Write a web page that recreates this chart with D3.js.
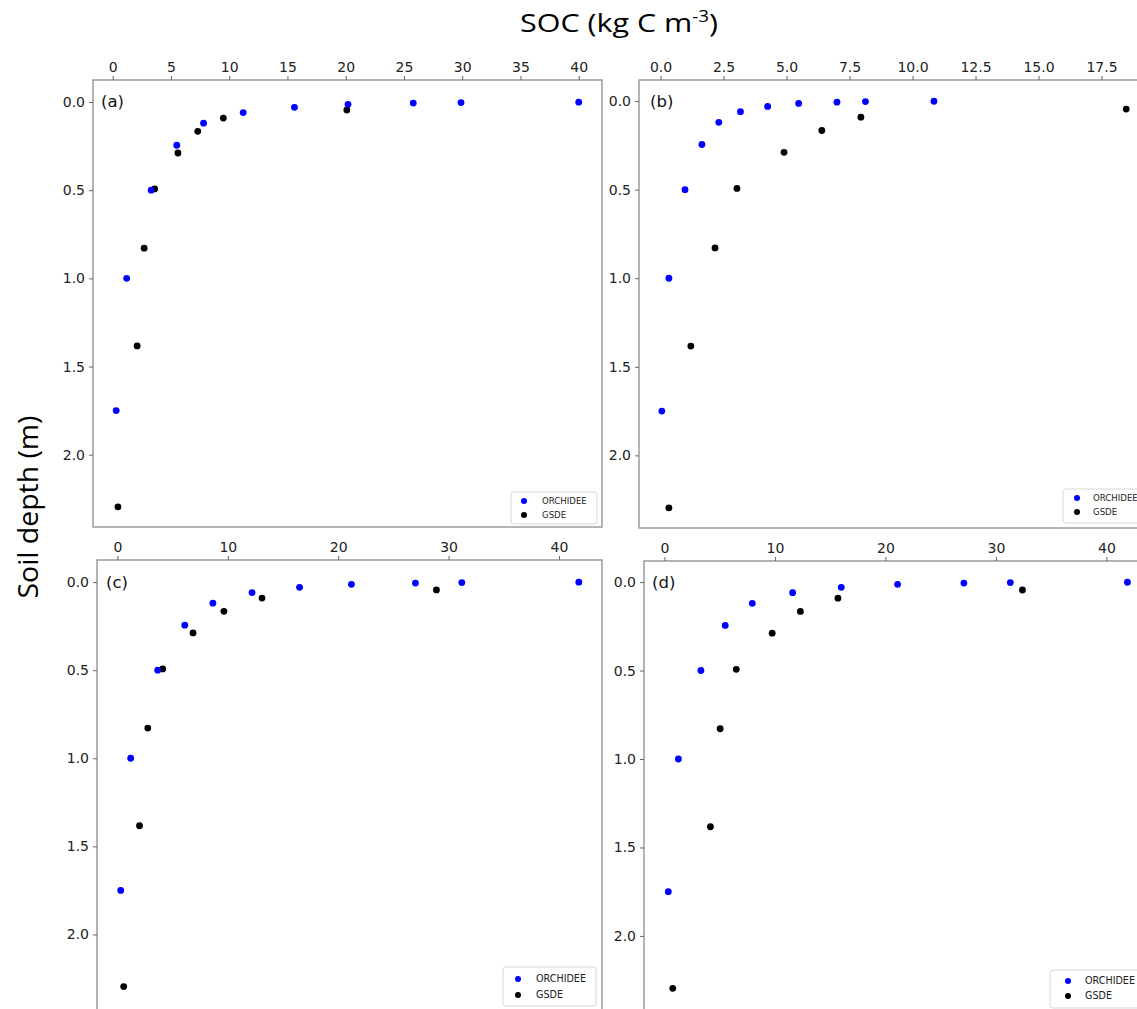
<!DOCTYPE html>
<html>
<head>
<meta charset="utf-8">
<script src="https://cdn.jsdelivr.net/npm/d3@7"></script>
<style>
  body { margin: 0; background: #fff; }
  svg { display: block; }
</style>
</head>
<body>
<svg width="1137" height="1009"></svg>
<script>
// depths (m) of the two data sets
const depthOrch = [0.001, 0.003, 0.006, 0.013, 0.03, 0.06, 0.12, 0.245, 0.5, 1.0, 1.75];
const depthGsde = [0.045, 0.091, 0.166, 0.289, 0.493, 0.829, 1.383, 2.296];

// SOC values (kg C m-3) per panel
const orchA = [40.0, 29.9, 25.8, 20.2, 15.6, 11.2, 7.8, 5.5, 3.3, 1.2, 0.3];
const gsdeA = [20.1, 9.5, 7.3, 5.6, 3.6, 2.7, 2.1, 0.45];
const orchB = [10.85, 8.13, 7.0, 5.48, 4.25, 3.17, 2.31, 1.64, 0.97, 0.33, 0.05];
const gsdeB = [18.48, 7.95, 6.4, 4.9, 3.03, 2.16, 1.2, 0.33];
const orchC = [41.8, 31.2, 27.0, 21.2, 16.5, 12.2, 8.65, 6.1, 3.65, 1.2, 0.3];
const gsdeC = [28.9, 13.1, 9.65, 6.85, 4.1, 2.75, 2.0, 0.57];
const orchD = [41.9, 31.3, 27.1, 21.1, 16.0, 11.6, 7.95, 5.5, 3.3, 1.26, 0.35];
const gsdeD = [32.4, 15.7, 12.3, 9.75, 6.5, 5.04, 4.16, 0.75];

// tick labels
const xTicksA = [0, 5, 10, 15, 20, 25, 30, 35, 40];
const xTicksB = [0, 2.5, 5, 7.5, 10, 12.5, 15, 17.5];
const xTicksCD = [0, 10, 20, 30, 40];
const yTicks = [0, 0.5, 1.0, 1.5, 2.0];
const seriesNames = ["ORCHIDEE", "GSDE"];
const seriesColors = ["#0000ff", "#000000"];

const svg = d3.select("svg");
const tickFont = "DejaVu Sans, sans-serif";

// panel geometry
const panels = [
  { tag: "(a)", orch: orchA, gsde: gsdeA, xt: xTicksA, xf: d3.format("d"),
    left: 93, right: 602, top: 80, bottom: 527, xd: [-1.69, 42.0], yd: [-0.125, 2.41],
    tagX: 101, tagY: 107,
    leg: { x: 511, y: 492, w: 86, h: 32, fs: 8.6, dx: 13, tx: 31, r1: 9, r2: 23 } },
  { tag: "(b)", orch: orchB, gsde: gsdeB, xt: xTicksB, xf: d3.format(".1f"),
    left: 639, right: 1165, top: 80, bottom: 528, xd: [-0.857, 20.02], yd: [-0.119, 2.41],
    tagX: 650, tagY: 107,
    leg: { x: 1063, y: 489, w: 90, h: 34, fs: 8.6, dx: 14, tx: 30, r1: 9, r2: 23 } },
  { tag: "(c)", orch: orchC, gsde: gsdeC, xt: xTicksCD, xf: d3.format("d"),
    left: 97, right: 602, top: 560, bottom: 1012, xd: [-1.85, 43.9], yd: [-0.125, 2.44],
    tagX: 106, tagY: 588,
    leg: { x: 503, y: 967, w: 93, h: 39, fs: 9.6, dx: 15, tx: 33, r1: 12, r2: 28 } },
  { tag: "(d)", orch: orchD, gsde: gsdeD, xt: xTicksCD, xf: d3.format("d"),
    left: 644, right: 1165, top: 561, bottom: 1012, xd: [-1.85, 45.3], yd: [-0.119, 2.43],
    tagX: 652, tagY: 588,
    leg: { x: 1050, y: 970, w: 95, h: 38, fs: 9.6, dx: 18, tx: 35, r1: 11, r2: 26 } }
];

panels.forEach(p => {
  const g = svg.append("g");
  const x = d3.scaleLinear().domain(p.xd).range([p.left, p.right]);
  const y = d3.scaleLinear().domain(p.yd).range([p.top, p.bottom]);

  // frame
  g.append("rect")
    .attr("x", p.left).attr("y", p.top)
    .attr("width", p.right - p.left).attr("height", p.bottom - p.top)
    .attr("fill", "#fff").attr("stroke", "#8c8c8c").attr("stroke-width", 1.3);

  // top axis
  const ax = g.append("g")
    .attr("transform", `translate(0,${p.top})`)
    .call(d3.axisTop(x).tickValues(p.xt).tickFormat(p.xf).tickSize(4).tickPadding(4));
  ax.select(".domain").remove();

  // left axis
  const ay = g.append("g")
    .attr("transform", `translate(${p.left},0)`)
    .call(d3.axisLeft(y).tickValues(yTicks).tickFormat(d3.format(".1f")).tickSize(4).tickPadding(4));
  ay.select(".domain").remove();

  g.selectAll(".tick line").attr("stroke", "#666");
  g.selectAll(".tick text")
    .attr("font-family", tickFont).attr("font-size", 14).attr("fill", "#222");

  // points
  g.selectAll(".gs").data(p.gsde).join("circle")
    .attr("cx", d => x(d)).attr("cy", (d, i) => y(depthGsde[i]))
    .attr("r", 3.4).attr("fill", seriesColors[1]);
  g.selectAll(".or").data(p.orch).join("circle")
    .attr("cx", d => x(d)).attr("cy", (d, i) => y(depthOrch[i]))
    .attr("r", 3.4).attr("fill", seriesColors[0]);

  // panel tag
  g.append("text")
    .attr("x", p.tagX).attr("y", p.tagY)
    .attr("font-family", tickFont).attr("font-size", 16.5).attr("fill", "#111")
    .text(p.tag);

  // legend
  const L = p.leg;
  g.append("rect")
    .attr("x", L.x).attr("y", L.y).attr("width", L.w).attr("height", L.h)
    .attr("rx", 3).attr("fill", "#fff").attr("stroke", "#d8d8d8");
  seriesNames.forEach((n, i) => {
    const cy = L.y + (i === 0 ? L.r1 : L.r2);
    g.append("circle").attr("cx", L.x + L.dx).attr("cy", cy)
      .attr("r", 3).attr("fill", seriesColors[i]);
    g.append("text").attr("x", L.x + L.tx).attr("y", cy + L.fs * 0.36)
      .attr("font-family", tickFont).attr("font-size", L.fs).attr("fill", "#222")
      .text(n);
  });
});

// shared axis titles
const title = svg.append("text")
  .attr("x", 619).attr("y", 32)
  .attr("text-anchor", "middle")
  .attr("font-family", "Open Sans, sans-serif")
  .attr("font-size", 26).attr("fill", "#000")
  .attr("textLength", 198).attr("lengthAdjust", "spacingAndGlyphs");
title.append("tspan").text("SOC (kg C m");
title.append("tspan").attr("dy", -10).attr("font-size", 16).text("-3");
title.append("tspan").attr("dy", 10).text(")");

svg.append("text")
  .attr("transform", "translate(38,507) rotate(-90)")
  .attr("text-anchor", "middle")
  .attr("font-family", "Open Sans, sans-serif")
  .attr("font-size", 27).attr("fill", "#000")
  .attr("textLength", 183).attr("lengthAdjust", "spacingAndGlyphs")
  .text("Soil depth (m)");
</script>
</body>
</html>
